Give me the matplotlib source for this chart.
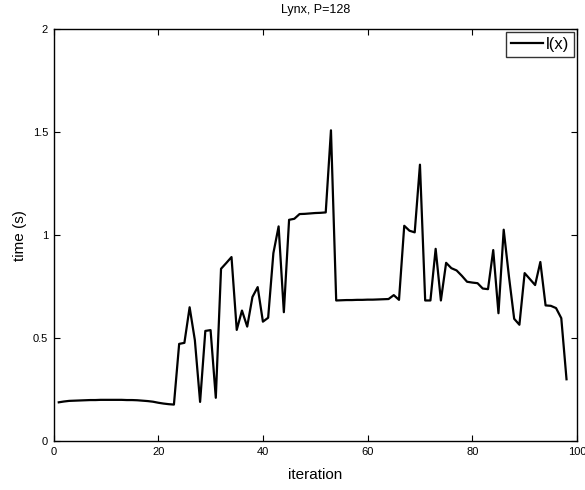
import matplotlib
matplotlib.use("Agg")
import matplotlib.pyplot as plt

plt.rcParams['font.family'] = ['Liberation Sans', 'DejaVu Sans']

iterations = list(range(1, 99))
times = [
    0.188, 0.192, 0.195, 0.196, 0.197, 0.198, 0.199, 0.199, 0.200, 0.200,
    0.200, 0.200, 0.200, 0.199, 0.199, 0.198, 0.196, 0.194, 0.191, 0.186,
    0.182, 0.179, 0.177, 0.472, 0.477, 0.650, 0.490, 0.190, 0.535, 0.539,
    0.210, 0.837, 0.865, 0.894, 0.540, 0.634, 0.556, 0.700, 0.748, 0.580,
    0.599, 0.913, 1.043, 0.626, 1.075, 1.080, 1.103, 1.104, 1.106, 1.108,
    1.109, 1.111, 1.510, 0.683, 0.684, 0.685, 0.685, 0.686, 0.686, 0.687,
    0.687, 0.688, 0.689, 0.690, 0.709, 0.686, 1.046, 1.022, 1.014, 1.343,
    0.683, 0.683, 0.934, 0.683, 0.866, 0.840, 0.829, 0.803, 0.774, 0.770,
    0.767, 0.741, 0.738, 0.928, 0.621, 1.027, 0.800, 0.594, 0.565, 0.816,
    0.787, 0.758, 0.870, 0.659, 0.657, 0.646, 0.597, 0.300,
]
x_ticks = [0, 20, 40, 60, 80, 100]
y_ticks = [0, 0.5, 1, 1.5, 2]
y_tick_labels = ['0', '0.5', '1', '1.5', '2']

fig = plt.figure(figsize=(5.85, 4.9), dpi=100)
ax = fig.add_axes([0.0915, 0.1, 0.8948, 0.8398])
ax.plot(iterations, times, color='black', linewidth=1.6, label='l(x)')
ax.set_xlim(0, 100)
ax.set_ylim(0, 2)
ax.set_xticks(x_ticks)
ax.set_yticks(y_ticks)
ax.set_yticklabels(y_tick_labels)
ax.tick_params(direction='in', length=4, width=0.8, labelsize=8,
               top=True, right=True, pad=4)
for s in ax.spines.values():
    s.set_linewidth(1.0)
ax.set_xlabel('iteration', fontsize=11, labelpad=8)
ax.set_ylabel('time (s)', fontsize=11, labelpad=4)
ax.set_title('Lynx, P=128', fontsize=9, pad=12)
leg = ax.legend(loc='upper right', fontsize=12, frameon=True, fancybox=False,
                borderaxespad=0.15, handlelength=1.9, handletextpad=0.2,
                borderpad=0.3)
leg.get_frame().set_edgecolor('black')
leg.get_frame().set_linewidth(1.0)
fig.savefig('out.png', dpi=100)
